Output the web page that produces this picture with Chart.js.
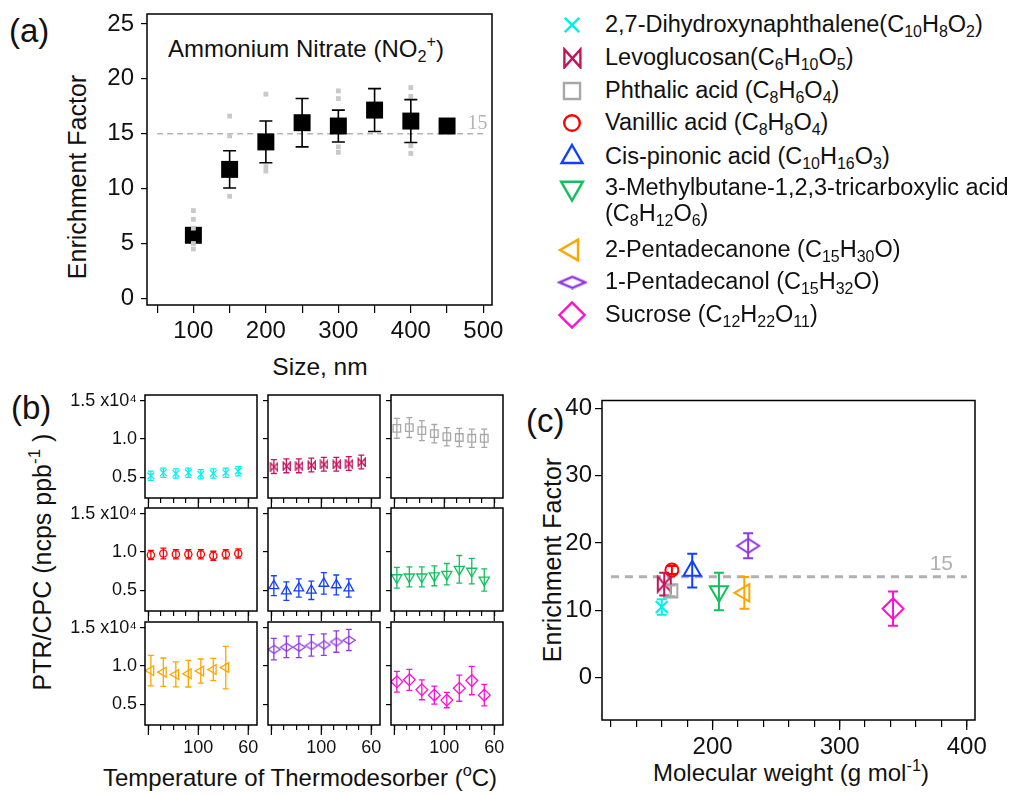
<!DOCTYPE html>
<html>
<head>
<meta charset="utf-8">
<title>Enrichment factor</title>
<script src="https://cdn.jsdelivr.net/npm/chart.js@4.4.1/dist/chart.umd.min.js"></script>
<style>
  html, body { margin: 0; padding: 0; background: #fff; }
  body { position: relative; width: 1011px; height: 794px; overflow: hidden; font-family: 'Liberation Sans', Arial, sans-serif; color: #111; }
  canvas { position: absolute; }
  .t { position: absolute; white-space: nowrap; line-height: 1; }
  .rot { transform: translate(-50%, -50%) rotate(-90deg); }
  .ctr { transform: translate(-50%, -50%); }
  sub { font-size: 0.68em; vertical-align: -0.3em; line-height: 0; }
  sup { font-size: 0.68em; vertical-align: 0.6em; line-height: 0; }
  .legend-row { position: absolute; left: 552px; width: 459px; height: 32px; }
  .legend-row canvas { left: 0; top: 0; }
  .legend-row span { position: absolute; left: 53px; top: 3px; font-size: 23.5px; white-space: nowrap; line-height: 1.1; }
</style>
</head>
<body>

<div class="t" style="left:9px;top:14px;font-size:33px">(a)</div>
<div class="t" style="left:168px;top:37px;font-size:24px">Ammonium Nitrate (NO<sub>2</sub><sup>+</sup>)</div>
<div class="t rot" style="left:77px;top:177px;font-size:25px">Enrichment Factor</div>
<div class="t ctr" style="left:320px;top:367px;font-size:24.5px">Size, nm</div>

<div class="t" style="left:11px;top:391px;font-size:33px">(b)</div>
<div class="t rot" style="left:42px;top:562px;font-size:25px">PTR/CPC (ncps ppb<sup>-1</sup> )</div>
<div class="t ctr" style="left:300px;top:778px;font-size:24px">Temperature of Thermodesorber (<sup>o</sup>C)</div>

<div class="t" style="left:526px;top:404px;font-size:33px">(c)</div>
<div class="t rot" style="left:552px;top:560px;font-size:25px">Enrichment Factor</div>
<div class="t ctr" style="left:791px;top:773px;font-size:24px">Molecular weight (g mol<sup>-1</sup>)</div>

<div id="legend"></div>

<script>
// ---------- data ----------
// (a) Ammonium nitrate, enrichment factor vs particle size
const sizeNm = [100, 150, 200, 250, 300, 350, 400, 450];
const efMean = [5.75, 11.75, 14.25, 16.0, 15.7, 17.15, 16.15, 15.7];
const efErr = [0, 1.7, 1.9, 2.2, 1.45, 1.95, 1.95, 0];
// individual runs (grey dots)
const runSize = [100, 100, 100, 100, 100, 150, 150, 150, 200, 200, 200, 300, 300, 300, 300, 400, 400, 400, 400];
const runEf = [8.0, 7.2, 6.4, 5.0, 4.5, 16.6, 14.8, 9.3, 18.6, 12.0, 11.6, 18.9, 18.2, 13.8, 13.3, 19.2, 18.4, 13.9, 13.2];
const refEf = 15;

// compounds
const compoundNames = [
  '2,7-Dihydroxynaphthalene(C<sub>10</sub>H<sub>8</sub>O<sub>2</sub>)',
  'Levoglucosan(C<sub>6</sub>H<sub>10</sub>O<sub>5</sub>)',
  'Phthalic acid (C<sub>8</sub>H<sub>6</sub>O<sub>4</sub>)',
  'Vanillic acid (C<sub>8</sub>H<sub>8</sub>O<sub>4</sub>)',
  'Cis-pinonic acid (C<sub>10</sub>H<sub>16</sub>O<sub>3</sub>)',
  '3-Methylbutane-1,2,3-tricarboxylic acid<br>(C<sub>8</sub>H<sub>12</sub>O<sub>6</sub>)',
  '2-Pentadecanone (C<sub>15</sub>H<sub>30</sub>O)',
  '1-Pentadecanol (C<sub>15</sub>H<sub>32</sub>O)',
  'Sucrose (C<sub>12</sub>H<sub>22</sub>O<sub>11</sub>)'
];
const compoundColors = ['#00f0f0', '#c4145c', '#a8a8a8', '#ff0000', '#1240ff', '#12c060', '#ffa500', '#9038e8', '#ff10d0'];

// (b) PTR/CPC (x10^4 ncps/ppb) at each thermodesorber step
const tdStep = [0.2, 1.2, 2.2, 3.2, 4.2, 5.2, 6.2, 7.2];
const tdTickLabels = ['', '', '', '', '100', '', '', '', '60'];
const ptrVals = [
  [0.52, 0.56, 0.55, 0.56, 0.54, 0.55, 0.56, 0.58],
  [0.64, 0.65, 0.65, 0.66, 0.67, 0.67, 0.68, 0.70],
  [1.14, 1.15, 1.11, 1.07, 1.03, 1.02, 1.01, 1.01],
  [0.96, 0.98, 0.97, 0.97, 0.97, 0.95, 0.97, 0.98],
  [0.56, 0.49, 0.53, 0.50, 0.59, 0.57, 0.53],
  [0.665, 0.675, 0.675, 0.69, 0.71, 0.775, 0.75, 0.635],
  [0.94, 0.92, 0.89, 0.90, 0.935, 0.955, 0.98],
  [1.22, 1.25, 1.25, 1.27, 1.28, 1.32, 1.34],
  [0.795, 0.82, 0.69, 0.62, 0.555, 0.71, 0.81, 0.62]
];
const ptrErr = [
  [0.06, 0.06, 0.06, 0.06, 0.06, 0.06, 0.06, 0.06],
  [0.09, 0.09, 0.09, 0.09, 0.09, 0.09, 0.09, 0.09],
  [0.13, 0.13, 0.13, 0.12, 0.12, 0.12, 0.12, 0.12],
  [0.06, 0.07, 0.06, 0.06, 0.06, 0.06, 0.06, 0.06],
  [0.13, 0.12, 0.12, 0.12, 0.14, 0.13, 0.12],
  [0.135, 0.13, 0.13, 0.13, 0.14, 0.18, 0.167, 0.145],
  [0.2, 0.185, 0.163, 0.174, 0.157, 0.146, 0.278],
  [0.14, 0.14, 0.14, 0.14, 0.14, 0.14, 0.14],
  [0.135, 0.137, 0.13, 0.117, 0.1, 0.17, 0.185, 0.14]
];

// (c) enrichment factor vs molecular weight
const molWeight = [160, 162, 167, 168, 184, 205, 225, 228, 342];
const cmpEf = [10.5, 13.9, 12.9, 16.0, 15.9, 12.8, 12.6, 19.6, 10.25];
const cmpEfErr = [1.15, 1.7, 0.8, 0.6, 2.5, 2.8, 2.35, 1.85, 2.55];

// ---------- helpers ----------
const FONT = "'Liberation Sans', Arial, sans-serif";

// custom marker images (bowtie and flattened diamond)
function makeIcon(kind, w, h, color, lw) {
  const c = document.createElement('canvas');
  c.width = w + lw * 2; c.height = h + lw * 2;
  const ctx = c.getContext('2d');
  ctx.strokeStyle = color; ctx.lineWidth = lw; ctx.lineJoin = 'miter';
  ctx.translate(lw, lw);
  ctx.beginPath();
  if (kind === 'bowtie') {
    ctx.moveTo(0, 0); ctx.lineTo(w, h); ctx.lineTo(w, 0); ctx.lineTo(0, h); ctx.closePath();
  } else {
    ctx.moveTo(0, h / 2); ctx.lineTo(w / 2, 0); ctx.lineTo(w, h / 2); ctx.lineTo(w / 2, h); ctx.closePath();
  }
  ctx.stroke();
  return c;
}

// marker style per compound, at a given size scale
function markerFor(i, scale, lw, flat) {
  const col = compoundColors[i];
  switch (i) {
    case 0: return { pointStyle: 'crossRot', radius: 8.5 * scale, rotation: 0 };
    case 1: return { pointStyle: makeIcon('bowtie', Math.round(13 * scale), Math.round(15 * scale), col, lw), radius: 8 * scale, rotation: 0 };
    case 2: return { pointStyle: 'rect', radius: 9.5 * scale, rotation: 0 };
    case 3: return { pointStyle: 'circle', radius: 6.5 * scale, rotation: 0 };
    case 4: return { pointStyle: 'triangle', radius: 10 * scale, rotation: 0 };
    case 5: return { pointStyle: 'triangle', radius: 10.5 * scale, rotation: 180 };
    case 6: return { pointStyle: 'triangle', radius: 10 * scale, rotation: -90 };
    case 7: return { pointStyle: makeIcon('diamond', Math.round(22 * scale), Math.round((flat || 14) * scale), col, lw), radius: 10 * scale, rotation: 0 };
    default: return { pointStyle: 'rectRot', radius: 10.5 * scale, rotation: 0 };
  }
}

// error bars drawn from the dataset's own y scale
const errorBarPlugin = {
  id: 'errorBars',
  afterDatasetsDraw(chart) {
    const ctx = chart.ctx;
    const ys = chart.scales.y;
    chart.data.datasets.forEach((ds, i) => {
      if (!ds.errors) return;
      const meta = chart.getDatasetMeta(i);
      ctx.save();
      ctx.strokeStyle = ds.borderColor;
      ctx.lineWidth = ds.errorWidth || 1.2;
      meta.data.forEach((pt, j) => {
        const e = ds.errors[j];
        if (!e) return;
        const v = ds.data[j].y;
        const top = ys.getPixelForValue(v + e);
        const bot = ys.getPixelForValue(v - e);
        const cap = ds.capHalf || 3;
        ctx.beginPath();
        ctx.moveTo(pt.x, top); ctx.lineTo(pt.x, bot);
        ctx.moveTo(pt.x - cap, top); ctx.lineTo(pt.x + cap, top);
        ctx.moveTo(pt.x - cap, bot); ctx.lineTo(pt.x + cap, bot);
        ctx.stroke();
      });
      ctx.restore();
    });
  }
};

// box around the plot area
const framePlugin = {
  id: 'frame',
  afterDraw(chart, args, opts) {
    const { left, top, right, bottom } = chart.chartArea;
    const ctx = chart.ctx;
    ctx.save();
    ctx.strokeStyle = '#000';
    ctx.lineWidth = opts.width || 1.5;
    ctx.strokeRect(left, top, right - left, bottom - top);
    ctx.restore();
  }
};

// dashed reference line with its label
const refLinePlugin = {
  id: 'refLine',
  beforeDatasetsDraw(chart, args, opts) {
    if (opts.value === undefined) return;
    const ctx = chart.ctx;
    const xs = chart.scales.x, ys = chart.scales.y;
    const py = ys.getPixelForValue(opts.value);
    ctx.save();
    ctx.strokeStyle = opts.color;
    ctx.lineWidth = opts.width;
    ctx.setLineDash(opts.dash);
    ctx.beginPath();
    ctx.moveTo(xs.getPixelForValue(opts.from), py);
    ctx.lineTo(xs.getPixelForValue(opts.to), py);
    ctx.stroke();
    ctx.setLineDash([]);
    ctx.fillStyle = opts.color;
    ctx.font = opts.font;
    ctx.textAlign = 'center';
    ctx.textBaseline = 'bottom';
    ctx.fillText(String(opts.value), xs.getPixelForValue(opts.labelAt), py + opts.labelDy);
    ctx.restore();
  }
};

// longer tick marks at the labelled x positions (Igor style)
const majorTickPlugin = {
  id: 'majorTicks',
  afterDraw(chart, args, opts) {
    if (!opts.every) return;
    const xs = chart.scales.x;
    const ctx = chart.ctx;
    const y0 = chart.chartArea.bottom;
    ctx.save();
    ctx.strokeStyle = '#000';
    ctx.lineWidth = 1.2;
    xs.ticks.forEach((t) => {
      if (Math.abs(t.value / opts.every - Math.round(t.value / opts.every)) > 1e-6) return;
      const px = xs.getPixelForValue(t.value);
      ctx.beginPath();
      ctx.moveTo(px, y0);
      ctx.lineTo(px, y0 + opts.length);
      ctx.stroke();
    });
    ctx.restore();
  }
};

Chart.register(errorBarPlugin, framePlugin, refLinePlugin, majorTickPlugin);

function addCanvas(left, top, w, h, parent) {
  const c = document.createElement('canvas');
  c.width = w; c.height = h;
  c.style.left = left + 'px'; c.style.top = top + 'px';
  c.style.width = w + 'px'; c.style.height = h + 'px';
  (parent || document.body).appendChild(c);
  return c;
}

function axis(min, max, step, labelFn, fontSize, tickLen, pad, fixSize, isX) {
  return {
    type: 'linear', min: min, max: max,
    ticks: {
      stepSize: step, includeBounds: false, autoSkip: false, maxRotation: 0, minRotation: 0,
      padding: pad, color: '#111', font: { family: FONT, size: fontSize }, callback: labelFn
    },
    grid: { drawOnChartArea: false, drawTicks: true, tickLength: tickLen, color: '#000', lineWidth: 1.2 },
    border: { display: false },
    afterFit: (s) => {
      if (isX) { s.height = fixSize; s.paddingLeft = 0; s.paddingRight = 0; }
      else { s.width = fixSize; s.paddingTop = 0; s.paddingBottom = 0; }
    }
  };
}

function baseOptions(padTop, padRight, xAxis, yAxis, extraPlugins) {
  return {
    responsive: false, animation: false, events: [],
    layout: { padding: { top: padTop, right: padRight, left: 0, bottom: 0 } },
    plugins: Object.assign({ legend: { display: false }, tooltip: { enabled: false }, frame: { width: 1.5 } }, extraPlugins || {}),
    scales: { x: xAxis, y: yAxis }
  };
}

// ---------- panel (a) ----------
(function () {
  const padTop = 14, yW = 147, plotW = 345, plotH = 291, xH = 40, padR = 18;
  const cv = addCanvas(0, 0, yW + plotW + padR, padTop + plotH + xH);
  new Chart(cv, {
    type: 'scatter',
    data: {
      datasets: [
        {
          data: runSize.map((x, i) => ({ x: x, y: runEf[i] })),
          pointStyle: 'rect', pointRadius: 3.4, pointBackgroundColor: '#c9c9c9', pointBorderWidth: 0, borderColor: '#c9c9c9'
        },
        {
          data: sizeNm.map((x, i) => ({ x: x, y: efMean[i] })),
          errors: efErr, errorWidth: 1.6, capHalf: 6.5,
          pointStyle: 'rect', pointRadius: 12, pointBackgroundColor: '#000', pointBorderWidth: 0, borderColor: '#000'
        }
      ]
    },
    options: baseOptions(padTop, padR,
      axis(36, 512, 50, (v) => (v % 100 === 0 ? String(v) : ''), 24, 8, 4, xH, true),
      axis(-0.6, 25.9, 5, (v) => String(v), 24, 6, 7, yW, false),
      { refLine: { value: refEf, from: 50, to: 500, labelAt: 492, labelDy: 0, color: '#b4b4b4', width: 1.4, dash: [6, 4], font: "20px 'Liberation Serif', serif" } }
    )
  });
})();

// ---------- panel (b) ----------
(function () {
  const colLeft = [145, 268, 391], rowTop = [395, 508, 622];
  const plotW = 112, plotH = 103, padTop = 10, padR = 14;
  for (let k = 0; k < 9; k++) {
    const row = Math.floor(k / 3), col = k % 3;
    const yW = col === 0 ? 85 : 12;
    const xH = row === 2 ? 40 : 14;
    const cv = addCanvas(colLeft[col] - yW, rowTop[row] - padTop, yW + plotW + padR, padTop + plotH + xH);
    const mk = markerFor(k, 0.56, 1.3);
    const xLabel = row === 2 ? (v) => tdTickLabels[Math.round(v)] || '' : () => '';
    const yLabel = col === 0 ? (v) => (Math.abs(v - 1.5) < 1e-6 ? '1.5 x10\u2074' : v.toFixed(1)) : () => '';
    new Chart(cv, {
      type: 'scatter',
      data: {
        datasets: [{
          data: ptrVals[k].map((y, j) => ({ x: tdStep[j], y: y })),
          errors: ptrErr[k], errorWidth: 1.3, capHalf: 3,
          pointStyle: mk.pointStyle, pointRadius: mk.radius, pointRotation: mk.rotation,
          pointBorderColor: compoundColors[k], borderColor: compoundColors[k],
          pointBackgroundColor: 'rgba(0,0,0,0)', pointBorderWidth: 1.3
        }]
      },
      options: baseOptions(padTop, padR,
        axis(-0.27, 8.7, 1, xLabel, 18, 5, 7, xH, true),
        axis(0.23, 1.575, 0.5, yLabel, 18, 5, 3, yW, false),
        { majorTicks: { every: 4, length: 10 } }
      )
    });
  }
})();

// ---------- panel (c) ----------
(function () {
  const left = 602, top = 398, plotW = 373, plotH = 322;
  const yW = 42, padTop = 10, padR = 20, xH = 42;
  const cv = addCanvas(left - yW, top - padTop, yW + plotW + padR, padTop + plotH + xH);
  const datasets = molWeight.map((mw, i) => {
    const mk = markerFor(i, 1, 2);
    return {
      data: [{ x: mw, y: cmpEf[i] }],
      errors: [cmpEfErr[i]], errorWidth: 2, capHalf: 5,
      pointStyle: mk.pointStyle, pointRadius: mk.radius, pointRotation: mk.rotation,
      pointBorderColor: compoundColors[i], borderColor: compoundColors[i],
      pointBackgroundColor: 'rgba(0,0,0,0)', pointBorderWidth: 2
    };
  });
  new Chart(cv, {
    type: 'scatter',
    data: { datasets: datasets },
    options: baseOptions(padTop, padR,
      axis(113, 406.5, 20, (v) => (v % 100 === 0 ? String(v) : ''), 24, 7, 6, xH, true),
      axis(-6.3, 41.2, 10, (v) => String(v), 24, 7, 3, yW, false),
      {
        refLine: { value: refEf, from: 120, to: 400, labelAt: 380, labelDy: -2, color: '#b0b0b0', width: 3, dash: [8, 6], font: "21px " + FONT },
        majorTicks: { every: 100, length: 10 }
      }
    )
  });
})();

// ---------- legend ----------
(function () {
  const rowCenter = [25, 58, 91, 123, 157, 188, 250, 282, 315];
  const host = document.getElementById('legend');
  compoundNames.forEach((name, i) => {
    const row = document.createElement('div');
    row.className = 'legend-row';
    row.style.top = (rowCenter[i] - 16) + 'px';
    host.appendChild(row);
    const c = addCanvas(0, 0, 40, 32, row);
    const ctx = c.getContext('2d');
    const mk = markerFor(i, 1.2, 2.4, 9);
    ctx.strokeStyle = compoundColors[i];
    ctx.fillStyle = 'rgba(0,0,0,0)';
    ctx.lineWidth = 2.4;
    Chart.helpers.drawPoint(ctx, { pointStyle: mk.pointStyle, radius: mk.radius, rotation: mk.rotation, borderWidth: 2.4 }, 20, 16);
    const span = document.createElement('span');
    span.innerHTML = name;
    row.appendChild(span);
  });
})();
</script>
</body>
</html>
